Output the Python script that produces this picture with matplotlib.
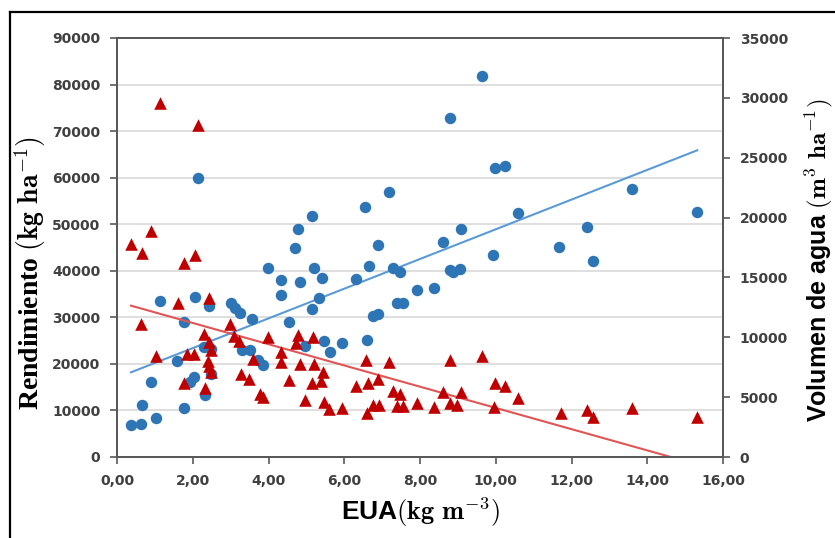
import matplotlib
matplotlib.use('Agg')
import matplotlib.pyplot as plt
import numpy as np
from matplotlib.lines import Line2D

plt.rcParams['mathtext.fontset'] = 'cm'

# ---------------- data ----------------
# Rendimiento (kg/ha) vs EUA (kg/m3) -> left axis, blue circles
eua_rend = [0.37, 0.63, 0.67, 1.02, 0.89, 1.13, 1.59, 1.77, 1.77, 1.93, 2.03, 2.07,
            2.15, 2.32, 2.31, 2.44, 2.48, 2.47, 3.00, 3.11, 3.25, 3.57, 3.29, 3.51,
            3.73, 3.86, 3.99, 4.33, 4.33, 4.83, 5.21, 5.42, 5.34, 5.14, 4.54, 4.96,
            5.46, 5.62, 5.93, 6.31, 6.65, 6.61, 6.76, 6.89, 7.29, 7.47, 7.38, 7.55,
            4.70, 4.78, 5.16, 6.54, 6.89, 7.18, 9.65, 8.79, 9.97, 10.24, 10.59, 9.08,
            8.61, 9.93, 11.66, 8.79, 8.87, 9.05, 7.93, 8.37, 13.61, 15.32, 12.42, 12.57]
rendimiento = [6900, 7150, 11200, 8300, 16200, 33500, 20600, 10600, 28900, 16200, 17250, 34400,
               60000, 13300, 23700, 32400, 23100, 17800, 33000, 31900, 30900, 29600, 23000, 23000,
               20800, 19800, 40600, 38000, 34800, 37500, 40600, 38400, 34200, 31800, 28900, 23800,
               24900, 22600, 24400, 38200, 41000, 25100, 30300, 30700, 40500, 39700, 33000, 33000,
               44800, 48900, 51800, 53800, 45500, 56900, 81800, 72800, 62000, 62400, 52400, 48900,
               46200, 43300, 45200, 40200, 39700, 40400, 35900, 36200, 57600, 52700, 49300, 42200]

# Volumen de agua (m3/ha) vs EUA -> right axis, red triangles
eua_vol = [1.13, 2.15, 0.89, 0.37, 0.67, 2.06, 1.77, 0.63, 1.02, 1.60, 1.77, 1.85,
           2.03, 2.43, 2.32, 2.30, 2.43, 2.48, 2.39, 2.44, 2.48, 2.98, 3.09, 3.23,
           3.58, 3.27, 3.49, 3.77, 3.86, 3.99, 4.33, 4.33, 4.54, 4.78, 4.72, 4.83,
           4.96, 5.18, 5.21, 5.44, 5.38, 5.14, 5.46, 5.59, 5.93, 6.31, 6.57, 6.63,
           6.89, 6.60, 6.76, 6.91, 7.18, 7.29, 7.47, 7.38, 7.55, 7.93, 8.37, 8.79,
           8.61, 8.79, 8.99, 9.08, 9.65, 9.97, 10.24, 10.59, 9.96, 11.71, 12.42, 12.57,
           13.61, 15.32]
volumen = [29600, 27700, 18900, 17800, 17000, 16900, 16200, 11100, 8400, 12900, 6200, 8600,
           8600, 13300, 5800, 10300, 9600, 8900, 8000, 7600, 7100, 11100, 10100, 9700,
           8200, 6900, 6500, 5300, 5000, 10050, 8800, 7950, 6400, 10200, 9500, 7750,
           4750, 10050, 7750, 7100, 6350, 6150, 4600, 4000, 4100, 5950, 8100, 6150,
           6500, 3650, 4350, 4350, 7900, 5500, 5250, 4300, 4300, 4500, 4200, 8100,
           5400, 4500, 4350, 5400, 8400, 6150, 5950, 4900, 4200, 3700, 3950, 3300,
           4100, 3300]

# linear trend lines (slope, intercept)
trend_rend = (3190.0, 17010.0)
trend_vol = (-887.0, 12970.0)

x_ticks = [0, 2, 4, 6, 8, 10, 12, 14, 16]
x_tick_labels = ['0,00', '2,00', '4,00', '6,00', '8,00', '10,00', '12,00', '14,00', '16,00']
left_ticks = [0, 10000, 20000, 30000, 40000, 50000, 60000, 70000, 80000, 90000]
right_ticks = [0, 5000, 10000, 15000, 20000, 25000, 30000, 35000]

# ---------------- figure ----------------
W, H = 835, 538
fig = plt.figure(figsize=(W / 100, H / 100), dpi=100)
fig.patch.set_facecolor('white')

ax = fig.add_axes([117 / W, 1 - 457 / H, 606 / W, 419 / H])
ax2 = ax.twinx()

spine_c = '#595959'
tick_c = '#404040'
blue = '#2e75b6'
red = '#c00000'

ax.set_xlim(0, 16)
ax.set_ylim(0, 90000)
ax2.set_ylim(0, 35000)

ax.set_yticks(left_ticks)
ax.set_yticklabels([str(t) for t in left_ticks])
ax2.set_yticks(right_ticks)
ax2.set_yticklabels([str(t) for t in right_ticks])
ax.set_xticks(x_ticks)
ax.set_xticklabels(x_tick_labels)

ax.grid(axis='y', color='#d9d9d9', lw=1.2, zorder=0)
ax.set_axisbelow(True)

for a in (ax, ax2):
    for s in a.spines.values():
        s.set_color(spine_c)
        s.set_linewidth(1.4)
    a.tick_params(length=5, width=1.2, color=spine_c, pad=7,
                  labelsize=10, labelcolor=tick_c)
    for lab in a.get_xticklabels() + a.get_yticklabels():
        lab.set_fontweight('bold')

# scatter
ax.scatter(eua_rend, rendimiento, s=68, marker='o', color=blue, zorder=3, linewidths=0)
ax2.scatter(eua_vol, volumen, s=82, marker='^', color=red, zorder=3, linewidths=0)

# trend lines
xr = np.array([min(eua_rend), max(eua_rend)])
ax.plot(xr, trend_rend[0] * xr + trend_rend[1], color='#5b9bd5', lw=1.5, zorder=2)
xv = np.array([min(eua_vol), max(eua_vol)])
ax2.plot(xv, trend_vol[0] * xv + trend_vol[1], color='#e05555', lw=1.5, zorder=2)

# labels
fig.text(30 / W, 1 - 273 / H, 'Rendimiento $(\\mathbf{kg\\ ha}^{-1})$',
         rotation=90, ha='center', va='center', fontsize=20,
         fontfamily='Liberation Serif', fontweight='bold')
fig.text(819 / W, 1 - 260 / H, 'Volumen de agua $(\\mathbf{m}^{3}\\ \\mathbf{ha}^{-1})$',
         rotation=90, ha='center', va='center', fontsize=18,
         fontfamily='Liberation Sans', fontweight='bold')
fig.text(420 / W, 1 - 512 / H, 'EUA$(\\mathbf{kg\\ m}^{-3})$',
         ha='center', va='center', fontsize=19,
         fontfamily='Liberation Sans', fontweight='bold')

# frame lines
fig.add_artist(Line2D([10 / W, 1], [1 - 12 / H, 1 - 12 / H], transform=fig.transFigure,
                      color='black', lw=1.6))
fig.add_artist(Line2D([10 / W, 10 / W], [0, 1 - 12 / H], transform=fig.transFigure,
                      color='black', lw=1.6))

fig.savefig('out.png', dpi=100)
